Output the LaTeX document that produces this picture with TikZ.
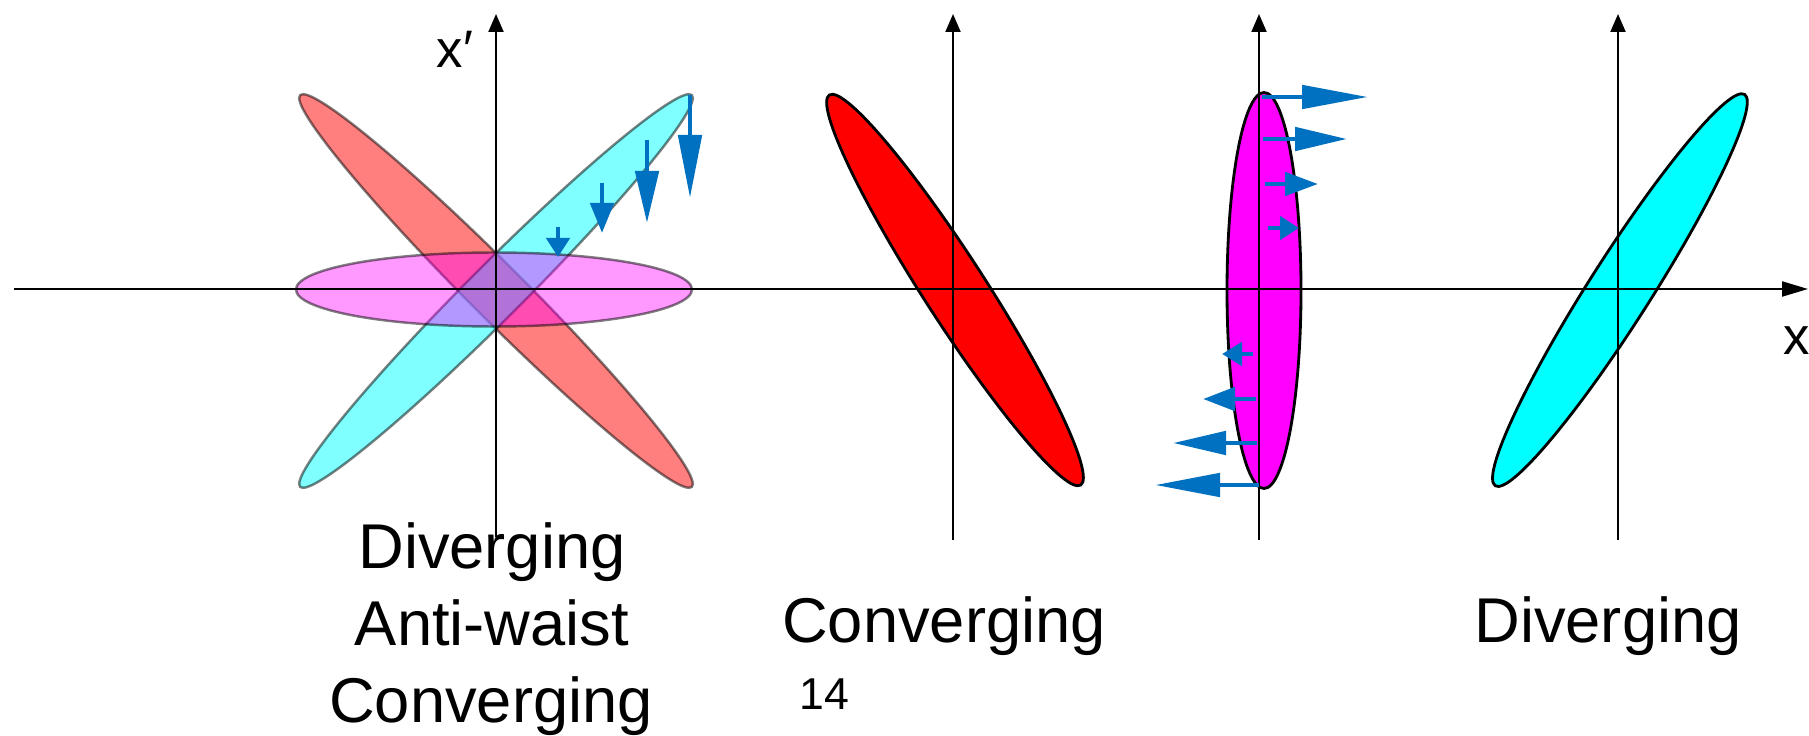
\documentclass[tikz,border=0pt]{standalone}
\usepackage{fontspec}
\setmainfont{Liberation Sans}
\usetikzlibrary{arrows.meta,positioning}
\definecolor{pushblue}{RGB}{0,112,192}
\definecolor{beamred}{RGB}{255,0,0}
\definecolor{beamcyan}{RGB}{0,255,255}
\definecolor{beammag}{RGB}{255,0,255}
\tikzset{
  axis/.style={line width=0.6pt,-{Triangle[length=2.6mm,width=1.5mm]}},
  vaxis/.style={line width=0.6pt,-{Triangle[length=1.8mm,width=1.5mm]}},
}
\begin{document}
\begin{tikzpicture}[x=0.1mm,y=-0.1mm,
   ghost/.style={draw=black,draw opacity=0.5,line width=0.7pt,fill opacity=0.5},
   beam/.style={draw=black,line width=0.8pt},
   push/.style={draw=pushblue,fill=pushblue,line width=1.4pt},
   lbl/.style={inner sep=0pt,anchor=base,font=\fontsize{18}{21}\selectfont},
   axlbl/.style={inner sep=0pt,anchor=base,font=\fontsize{15}{18}\selectfont}]
  \useasboundingbox (0,0) rectangle (1809,736);
  % phase space, four snapshots
  \coordinate (o1) at (496,291);
  \coordinate (o2) at (955,290);
  \coordinate (o3) at (1264,290.5);
  \coordinate (o4) at (1620,290);
  \coordinate (xl) at (14,289);
  \coordinate (xr) at (1808,289);
  \draw[ghost,fill=beamred,rotate around={-45:(o1)}] (o1) ellipse [x radius=277,y radius=27];
  \draw[ghost,fill=beamcyan,rotate around={45:(o1)}] (o1) ellipse [x radius=277,y radius=27];
  \draw[ghost,fill=beammag,fill opacity=0.4] (494,289.5) ellipse [x radius=198,y radius=37];
  \draw[beam,fill=beamred,rotate around={-57.2:(o2)}] (o2) ellipse [x radius=232,y radius=31];
  \draw[beam,fill=beammag] (o3) ellipse [x radius=37,y radius=198];
  \draw[beam,fill=beamcyan,rotate around={57.5:(o4)}] (o4) ellipse [x radius=232,y radius=31];
  \draw[axis] (xl) -- (xr);
  \foreach \n/\xx/\yb in {1/496/537,2/953/540,3/1259/540,4/1618/540} {
    \coordinate (b\n) at (\xx,\yb);
    \coordinate (t\n) at (\xx,14);
    \draw[vaxis] (b\n) -- (t\n);
  }
  \foreach \xx/\ys/\yt/\hl in {558/227/257/1.9,602/183/233/3.0,647/140/223/5.2,690/95/198/6.3}
    \draw[push,-{Triangle[length=\hl mm,width=2.3mm]}] (\xx,\ys) -- (\xx,\yt);
  \foreach \yy/\xs/\xt/\hl in {97/1262/1368/6.6,139/1263/1347/5.2,184/1265/1318/3.3,228/1268/1299/1.9,
      354/1253/1222/2.0,399/1256/1203/3.2,443/1257/1173/5.3,485/1259/1155/6.5}
    \draw[push,-{Triangle[length=\hl mm,width=2.3mm]}] (\xs,\yy) -- (\xt,\yy);
  \node[axlbl] (xp) at (455,68) {x′};
  \node[axlbl] (xx) at (1797,355) {x};
  \node[lbl] (divA) at (492,568) {Diverging};
  \node[lbl] (antiA) at (492,645) {Anti-waist};
  \node[lbl] (convA) at (491,722) {Converging};
  \node[lbl] (convB) at (944,642) {Converging};
  \node[lbl,font=\fontsize{12.7}{15}\selectfont] (page) at (824,709) {14};
  \node[lbl] (divB) at (1608,642) {Diverging};
\end{tikzpicture}
\end{document}
